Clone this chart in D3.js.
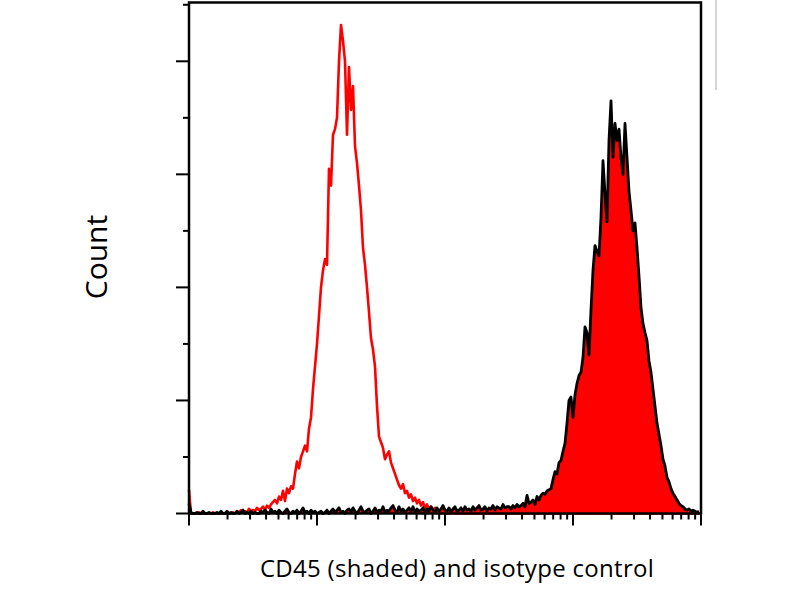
<!DOCTYPE html>
<html>
<head>
<meta charset="utf-8">
<script src="https://cdn.jsdelivr.net/npm/d3@7.9.0/dist/d3.min.js"></script>
<style>
  html, body { margin: 0; padding: 0; background: #fff; }
  svg { display: block; }
  text { font-family: "Open Sans", "Liberation Sans", sans-serif; fill: #000; }
</style>
</head>
<body>
<svg id="chart" width="800" height="600"></svg>
<script>
// 256 channels spread over 4 log decades (64 channels / decade)
const channelCount = 256;
const decades = [1, 10, 100, 1000, 10000];
const countTicks = [0, 50, 100, 150, 200, 250, 300, 350, 400, 450];
const xTitle = "CD45 (shaded) and isotype control";
const yTitle = "Count";

// isotype control (open red line), counts per channel
const isotypeCounts = [
  21, 0, 0, 0, 0, 1, 0, 0, 0, 0, 0, 0, 1, 0, 0, 0, 0, 0, 0, 0,
  0, 0, 1, 0, 2, 1, 3, 1, 2, 1, 4, 2, 3, 2, 5, 3, 4, 6, 3, 7,
  5, 8, 10, 12, 9, 15, 12, 20, 11, 22, 18, 24, 22, 35, 46, 40, 50, 55, 60, 55,
  75, 85, 110, 130, 150, 175, 200, 215, 225, 220, 305, 290, 335, 340, 350, 400, 432, 418, 400, 335,
  395, 357, 378, 325, 310, 290, 268, 235, 220, 200, 178, 155, 145, 130, 95, 68, 63, 58, 48, 52,
  55, 45, 40, 35, 30, 25, 22, 26, 18, 20, 14, 17, 11, 14, 9, 12, 7, 10, 5, 8,
  4, 6, 3, 5, 1, 2, 0, 1, 0, 0, 0, 0, 1, 0, 0, 0, 0, 0, 0, 0,
  0, 0, 0, 0, 0, 0, 0, 0, 0, 0, 0, 0, 0, 0, 0, 0, 0, 0, 0, 0,
  0, 0, 0, 0, 0, 0, 0, 0, 0, 0, 0, 0, 0, 0, 0, 0, 0, 0, 0, 0,
  0, 0, 0, 0, 0, 0, 0, 0, 0, 0, 0, 0, 0, 0, 0, 0, 0, 0, 0, 0,
  0, 0, 0, 0, 0, 0, 0, 0, 0, 0, 0, 0, 0, 0, 0, 0, 0, 0, 0, 0,
  0, 0, 0, 0, 0, 0, 0, 0, 0, 0, 0, 0, 0, 0, 0, 0, 0, 0, 0, 0,
  0, 0, 0, 0, 0, 0, 0, 0, 0, 0, 0, 0, 0, 0, 0, 0
];

// CD45 stained (red fill, black outline), counts per channel
const cd45Counts = [
  9, 1, 0, 0, 1, 0, 0, 2, 0, 0, 1, 0, 0, 0, 1, 0, 2, 0, 0, 2,
  0, 1, 0, 0, 2, 0, 1, 3, 0, 1, 0, 2, 0, 1, 0, 0, 2, 1, 3, 1,
  0, 4, 1, 2, 0, 3, 1, 0, 2, 4, 1, 0, 2, 1, 3, 0, 2, 5, 1, 2,
  0, 3, 1, 2, 0, 1, 2, 0, 1, 3, 0, 2, 4, 1, 3, 5, 1, 2, 0, 3,
  4, 1, 5, 2, 0, 3, 6, 2, 1, 3, 4, 0, 2, 5, 1, 3, 2, 6, 1, 3,
  2, 5, 7, 3, 1, 6, 2, 4, 1, 3, 5, 2, 6, 1, 4, 2, 3, 5, 1, 4,
  2, 6, 3, 1, 5, 2, 4, 7, 3, 2, 5, 1, 4, 6, 2, 3, 5, 2, 6, 3,
  4, 2, 6, 3, 5, 7, 3, 4, 6, 2, 5, 4, 7, 3, 6, 5, 4, 8, 5, 6,
  6, 4, 7, 5, 8, 6, 7, 9, 6, 16, 9, 10, 12, 8, 15, 12, 16, 18, 17, 20,
  21, 22, 30, 37, 35, 45, 47, 55, 62, 80, 100, 103, 85, 105, 115, 122, 125, 138, 165, 160,
  140, 180, 215, 237, 232, 228, 262, 312, 283, 258, 330, 365, 315, 345, 330, 340, 315, 300, 345, 315,
  285, 268, 250, 257, 235, 210, 182, 168, 160, 153, 135, 125, 110, 95, 80, 70, 60, 48, 42, 32,
  28, 22, 18, 15, 12, 9, 7, 6, 4, 3, 4, 2, 3, 2, 1, 2
];

const svg = d3.select("#chart");
const plot = { left: 189, right: 701, top: 2.5, bottom: 513.5 };

const x = d3.scaleLinear().domain([0, channelCount]).range([plot.left, plot.right]);
const xLog = d3.scaleLog().domain([decades[0], decades[decades.length - 1]]).range([plot.left, plot.right]);
const y = d3.scaleLinear().domain([0, 452]).range([plot.bottom, plot.top]);

const line = d3.line()
  .x((d, i) => x(i))
  .y((d) => y(d));

const area = d3.area()
  .x((d, i) => x(i))
  .y0(y(0))
  .y1((d) => y(d));

// isotype control line
svg.append("path")
  .datum(isotypeCounts)
  .attr("d", line)
  .attr("fill", "none")
  .attr("stroke", "#ff0000")
  .attr("stroke-width", 2.6)
  .attr("stroke-linejoin", "round");

// shaded CD45 histogram
svg.append("path")
  .datum(cd45Counts)
  .attr("d", area)
  .attr("fill", "#ff0000");

svg.append("path")
  .datum(cd45Counts)
  .attr("d", line)
  .attr("fill", "none")
  .attr("stroke", "#000")
  .attr("stroke-width", 2.8)
  .attr("stroke-linejoin", "round");

// frame
svg.append("rect")
  .attr("x", plot.left)
  .attr("y", plot.top)
  .attr("width", plot.right - plot.left)
  .attr("height", plot.bottom - plot.top)
  .attr("fill", "none")
  .attr("stroke", "#000")
  .attr("stroke-width", 2.5);

// x ticks: log minor + decade majors
const isDecade = (v) => Math.abs(Math.log10(v) - Math.round(Math.log10(v))) < 1e-9;
svg.append("g")
  .selectAll("line")
  .data(xLog.ticks())
  .join("line")
  .attr("x1", (d) => xLog(d))
  .attr("x2", (d) => xLog(d))
  .attr("y1", plot.bottom)
  .attr("y2", (d) => plot.bottom + (isDecade(d) ? 12 : 6))
  .attr("stroke", "#000")
  .attr("stroke-width", 2);

// y ticks
svg.append("g")
  .selectAll("line")
  .data(countTicks)
  .join("line")
  .attr("x1", (d) => plot.left - (d % 100 === 0 ? 13 : 6))
  .attr("x2", plot.left)
  .attr("y1", (d) => y(d))
  .attr("y2", (d) => y(d))
  .attr("stroke", "#000")
  .attr("stroke-width", 2);

// faint grey rule right of frame
svg.append("line")
  .attr("x1", 716).attr("x2", 716)
  .attr("y1", 0).attr("y2", 90)
  .attr("stroke", "#d4d4d4")
  .attr("stroke-width", 2);

svg.append("text")
  .attr("x", 457)
  .attr("y", 577)
  .attr("text-anchor", "middle")
  .attr("font-size", 24)
  .attr("letter-spacing", 0.3)
  .text(xTitle);

svg.append("text")
  .attr("transform", "translate(107,257) rotate(-90)")
  .attr("text-anchor", "middle")
  .attr("font-size", 30)
  .text(yTitle);
</script>
</body>
</html>
